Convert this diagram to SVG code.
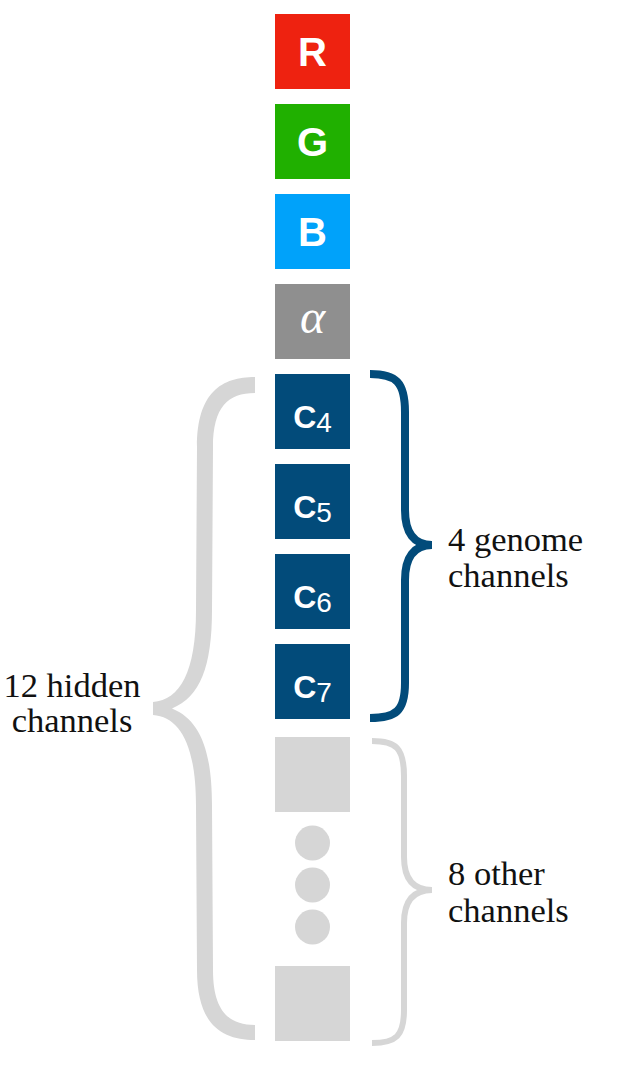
<svg xmlns="http://www.w3.org/2000/svg" width="625" height="1080" viewBox="0 0 625 1080">
<style>
.sq{stroke:none}
.lt{font-family:"Liberation Sans",Arial,sans-serif;fill:#fff;text-anchor:middle}
.lab{font-family:"Liberation Serif","Times New Roman",serif;font-size:34.5px;fill:#111}
.sub{font-weight:normal;font-size:28px}
</style>
<rect width="625" height="1080" fill="#fff"/>
<g id="connectors">
<path id="brace-hidden" d="M255,377 C222,377 197,392 197,447 L196,610 C196,672 180,700 153,702 L153,715 C180,717 196,745 196,806 L197,970 C197,1025 222,1040 255,1040 L255,1025 C228,1025 213,1010 213,970 L212,806 C212,750 200,720 172,708.5 C200,697 212,667 212,610 L213,447 C213,407 228,393 255,393 Z" fill="#d6d6d6"/>
<path id="brace-genome" d="M370,374 C396,374 405,382 405,412 L405,510 C405,533 414,545 432,545 C414,545 405,557 405,580 L405,683 C405,711 396,718 370,718" fill="none" stroke="#024b7a" stroke-width="8"/>
<path id="brace-other" d="M372,741 C396,741 404,748 404,776 L404,857 C404,880 414,890 432,890 C414,890 404,900 404,923 L404,1010 C404,1036 396,1043 372,1043" fill="none" stroke="#d6d6d6" stroke-width="6"/>
</g>
<g id="R"><rect class="sq" x="275" y="14" width="75" height="75" fill="#ee2210"/><text class="lt" x="312.5" y="66" font-size="40" font-weight="bold">R</text></g>
<g id="G"><rect class="sq" x="275" y="104" width="75" height="75" fill="#20b000"/><text class="lt" x="312.5" y="156" font-size="40" font-weight="bold">G</text></g>
<g id="B"><rect class="sq" x="275" y="194" width="75" height="75" fill="#00a2fa"/><text class="lt" x="312.5" y="246" font-size="40" font-weight="bold">B</text></g>
<g id="alpha"><rect class="sq" x="275" y="284" width="75" height="75" fill="#8f8f8f"/><text x="312.5" y="333" font-family="'Liberation Serif','Times New Roman',serif" font-style="italic" font-size="48" fill="#fff" text-anchor="middle">α</text></g>
<g id="C4"><rect class="sq" x="275" y="374" width="75" height="75" fill="#024b7a"/><text class="lt" x="312.5" y="428" font-size="32" font-weight="bold">C<tspan class="sub" dy="4">4</tspan></text></g>
<g id="C5"><rect class="sq" x="275" y="464" width="75" height="75" fill="#024b7a"/><text class="lt" x="312.5" y="518" font-size="32" font-weight="bold">C<tspan class="sub" dy="4">5</tspan></text></g>
<g id="C6"><rect class="sq" x="275" y="554" width="75" height="75" fill="#024b7a"/><text class="lt" x="312.5" y="608" font-size="32" font-weight="bold">C<tspan class="sub" dy="4">6</tspan></text></g>
<g id="C7"><rect class="sq" x="275" y="644" width="75" height="75" fill="#024b7a"/><text class="lt" x="312.5" y="698" font-size="32" font-weight="bold">C<tspan class="sub" dy="4">7</tspan></text></g>
<g id="other-top"><rect class="sq" x="275" y="737" width="75" height="75" fill="#d6d6d6"/></g>
<g id="dots" fill="#d6d6d6"><circle cx="312.5" cy="843" r="17.5"/><circle cx="312.5" cy="885" r="17.5"/><circle cx="312.5" cy="927" r="17.5"/></g>
<g id="other-bottom"><rect class="sq" x="275" y="966" width="75" height="75" fill="#d6d6d6"/></g>
<g id="label-hidden"><text class="lab" x="72" y="697" text-anchor="middle">12 hidden</text><text class="lab" x="72" y="732" text-anchor="middle">channels</text></g>
<g id="label-genome"><text class="lab" x="448" y="551">4 genome</text><text class="lab" x="448" y="587">channels</text></g>
<g id="label-other"><text class="lab" x="448" y="885">8 other</text><text class="lab" x="448" y="922">channels</text></g>
</svg>
